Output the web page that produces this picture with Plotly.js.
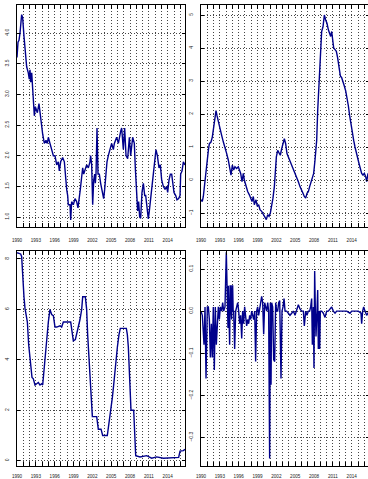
<!DOCTYPE html>
<html>
<head>
<meta charset="utf-8">
<script src="https://cdn.plot.ly/plotly-3.0.1.min.js"></script>
<style>
html,body{margin:0;padding:0;overflow:hidden;background:#fff;}
#chart{width:370px;height:479px;}
</style>
</head>
<body>
<div id="chart"></div>
<script>
// Top-left series (inflation-like)
const inflT = [1990.00,1990.16,1990.32,1990.48,1990.74,1990.90,1991.11,1991.33,1991.54,1991.80,1991.96,1992.07,1992.18,1992.34,1992.60,1992.76,1992.92,1993.24,1993.50,1993.66,1993.87,1994.09,1994.35,1994.62,1994.83,1994.99,1995.25,1995.52,1995.79,1996.05,1996.32,1996.58,1996.74,1996.95,1997.27,1997.54,1997.75,1997.91,1998.07,1998.17,1998.44,1998.55,1998.70,1998.97,1999.24,1999.50,1999.71,1999.93,2000.08,2000.24,2000.46,2000.62,2000.88,2001.09,2001.36,2001.62,2001.73,2001.89,2002.05,2002.21,2002.37,2002.47,2002.58,2002.74,2002.90,2003.11,2003.32,2003.59,2003.80,2003.96,2004.17,2004.33,2004.54,2004.81,2005.07,2005.34,2005.50,2005.87,2006.14,2006.51,2006.67,2006.93,2007.14,2007.36,2007.62,2007.89,2008.10,2008.42,2008.68,2008.84,2009.06,2009.21,2009.37,2009.53,2009.69,2009.90,2010.12,2010.33,2010.49,2010.70,2010.91,2011.07,2011.28,2011.50,2011.71,2011.97,2012.13,2012.35,2012.61,2012.82,2013.04,2013.30,2013.57,2013.83,2013.99,2014.20,2014.42,2014.63,2014.79,2015.00,2015.27,2015.48,2015.74,2015.96,2016.06,2016.27,2016.49,2016.75];
const inflV = [3.6,3.85,3.88,4.0,4.3,4.25,3.95,3.6,3.45,3.35,3.25,3.4,3.2,3.35,3.0,2.65,2.8,2.7,2.85,2.7,2.6,2.35,2.2,2.25,2.2,2.3,2.2,2.1,2.0,2.0,1.85,1.9,1.75,1.9,1.97,1.9,1.6,1.45,1.35,1.2,1.2,0.95,1.25,1.2,1.3,1.25,1.15,1.4,1.45,1.6,1.8,1.7,1.8,1.85,1.8,1.9,2.0,1.85,1.2,1.6,1.7,1.55,1.7,2.45,1.7,1.7,1.55,1.4,1.3,1.45,1.7,1.9,2.0,2.1,2.2,2.1,2.2,2.3,2.2,2.4,2.45,2.1,2.45,2.0,1.95,2.3,2.0,2.3,2.2,1.8,1.2,1.1,1.25,1.0,0.98,1.4,1.55,1.35,1.35,1.15,0.97,1.1,1.3,1.5,1.75,2.0,2.1,2.0,1.8,1.85,1.6,1.5,1.45,1.5,1.4,1.6,1.7,1.7,1.55,1.4,1.35,1.28,1.3,1.35,1.7,1.75,1.9,1.85];

// Top-right series (gap)
const gapT = [1990.00,1990.21,1990.37,1990.53,1990.74,1990.96,1991.17,1991.33,1991.59,1991.80,1992.02,1992.23,1992.39,1992.55,1992.71,1992.92,1993.08,1993.29,1993.56,1993.82,1994.09,1994.35,1994.56,1994.78,1994.99,1995.20,1995.41,1995.68,1995.94,1996.10,1996.32,1996.53,1996.74,1996.90,1997.17,1997.43,1997.70,1997.91,1998.12,1998.33,1998.49,1998.76,1998.97,1999.18,1999.39,1999.66,1999.93,2000.19,2000.40,2000.62,2000.83,2001.04,2001.25,2001.46,2001.68,2001.84,2002.00,2002.21,2002.42,2002.63,2002.85,2003.06,2003.27,2003.48,2003.69,2003.91,2004.12,2004.33,2004.54,2004.81,2005.02,2005.29,2005.50,2005.76,2006.03,2006.24,2006.45,2006.67,2006.88,2007.09,2007.30,2007.52,2007.73,2007.94,2008.15,2008.42,2008.58,2008.79,2009.00,2009.21,2009.43,2009.64,2009.85,2010.06,2010.28,2010.49,2010.65,2010.81,2010.97,2011.13,2011.34,2011.55,2011.76,2011.97,2012.19,2012.40,2012.61,2012.82,2013.04,2013.25,2013.46,2013.67,2013.89,2014.10,2014.31,2014.52,2014.73,2014.95,2015.16,2015.37,2015.58,2015.80,2016.01,2016.22,2016.38,2016.59,2016.75];
const gapV = [-0.6,-0.65,-0.5,-0.2,0.3,0.6,0.9,1.1,1.15,1.3,1.6,1.95,2.1,1.95,1.8,1.65,1.5,1.35,1.15,1.0,0.8,0.6,0.4,0.15,0.45,0.3,0.4,0.35,0.4,0.3,0.2,-0.05,0.2,0.0,-0.2,-0.35,-0.45,-0.55,-0.65,-0.5,-0.75,-0.6,-0.8,-0.75,-0.9,-0.95,-1.05,-1.15,-1.2,-1.05,-1.1,-1.0,-0.8,-0.55,-0.2,0.3,0.7,0.9,0.8,0.75,0.95,1.1,1.25,1.1,0.8,0.7,0.6,0.55,0.4,0.3,0.2,0.05,-0.05,-0.2,-0.35,-0.4,-0.5,-0.55,-0.4,-0.35,-0.2,-0.05,0.1,0.2,0.6,1.2,2.1,3.0,3.95,4.5,4.65,5.0,4.85,4.75,4.55,4.4,4.35,4.5,4.15,4.0,3.95,3.9,3.7,3.45,3.15,3.1,3.0,2.85,2.7,2.5,2.25,1.95,1.65,1.35,1.2,1.0,0.8,0.7,0.5,0.35,0.2,0.15,0.2,0.1,-0.05,0.2,0.15];

// Bottom-left series (policy rate)
const ffrT = [1990.00,1990.58,1990.74,1990.90,1991.11,1991.27,1991.43,1991.65,1991.86,1992.18,1992.39,1992.60,1992.87,1993.13,1993.40,1993.66,1993.93,1994.09,1994.25,1994.46,1994.72,1994.99,1995.25,1995.52,1995.79,1996.05,1996.32,1996.85,1997.11,1997.38,1998.55,1998.76,1998.97,1999.29,1999.50,1999.77,2000.03,2000.30,2000.46,2000.88,2001.09,2001.25,2001.46,2001.62,2001.78,2002.00,2002.69,2002.95,2003.38,2003.64,2004.38,2004.65,2004.97,2005.18,2005.39,2005.55,2005.76,2005.98,2006.24,2006.45,2007.41,2007.57,2007.73,2007.99,2008.15,2008.58,2008.74,2008.90,2009.59,2010.65,2011.44,2012.24,2013.30,2015.42,2015.74,2015.96,2016.49,2016.75];
const ffrV = [8.25,8.2,8.1,7.3,6.5,6.05,5.85,5.5,4.6,3.7,3.3,3.25,3.0,3.05,3.1,3.0,3.05,3.0,3.5,4.2,4.75,5.5,6.0,5.8,5.75,5.3,5.3,5.35,5.3,5.5,5.5,5.1,4.75,4.8,5.0,5.3,5.6,6.0,6.5,6.5,6.0,5.0,4.0,3.5,2.5,1.75,1.75,1.25,1.25,1.0,1.0,1.5,2.0,2.5,3.0,3.5,4.0,4.5,5.0,5.25,5.25,5.0,4.5,3.0,2.0,2.0,1.0,0.2,0.15,0.2,0.1,0.15,0.1,0.1,0.13,0.38,0.4,0.45];

// Bottom-right series (shocks)
const shockT = [1990.00,1990.21,1990.48,1990.64,1990.80,1991.01,1991.17,1991.33,1991.49,1991.65,1991.80,1991.96,1992.12,1992.28,1992.44,1992.60,1992.76,1992.92,1993.08,1993.29,1993.45,1993.61,1993.82,1994.03,1994.19,1994.25,1994.30,1994.35,1994.48,1994.56,1994.64,1994.72,1994.80,1994.88,1994.96,1995.04,1995.12,1995.20,1995.36,1995.52,1995.68,1995.84,1996.00,1996.16,1996.32,1996.48,1996.63,1996.79,1996.95,1997.11,1997.27,1997.43,1997.59,1997.75,1997.91,1998.07,1998.23,1998.39,1998.55,1998.70,1998.86,1999.02,1999.18,1999.34,1999.50,1999.66,1999.82,1999.98,2000.14,2000.30,2000.46,2000.62,2000.77,2000.93,2001.04,2001.15,2001.25,2001.41,2001.57,2001.73,2001.89,2002.05,2002.21,2002.37,2002.53,2002.74,2002.90,2003.06,2003.22,2003.38,2003.64,2003.91,2004.17,2004.44,2004.70,2004.97,2005.23,2005.50,2005.76,2006.03,2006.30,2006.45,2006.67,2006.88,2007.09,2007.30,2007.46,2007.62,2007.73,2007.89,2007.99,2008.10,2008.21,2008.31,2008.47,2008.58,2008.68,2008.79,2008.90,2009.00,2009.21,2009.48,2009.75,2010.01,2010.28,2010.54,2010.81,2011.07,2011.34,2011.60,2012.13,2012.66,2013.20,2013.73,2013.99,2014.52,2015.05,2015.48,2015.58,2015.74,2015.90,2016.11,2016.38,2016.59,2016.75];
const shockV = [0.0,-0.01,-0.08,0.01,-0.16,0.01,0.01,-0.02,-0.11,-0.03,-0.11,0.01,-0.14,0.01,-0.08,-0.02,0.01,-0.02,0.01,0.0,0.02,0.0,0.01,0.14,0.06,0.0,-0.04,0.06,0.0,-0.08,0.06,0.06,0.0,-0.02,0.06,0.06,0.0,0.0,-0.09,0.0,0.01,0.02,0.0,-0.03,-0.01,-0.065,0.0,-0.03,0.01,-0.02,-0.035,-0.02,-0.03,-0.01,-0.02,0.0,-0.01,-0.02,0.0,-0.12,0.0,0.01,-0.01,0.01,0.015,0.035,0.02,-0.055,0.02,0.01,0.0,0.02,0.0,-0.35,0.02,-0.175,0.02,0.01,-0.115,-0.12,0.02,0.0,0.0,0.02,0.025,-0.16,0.0,0.01,0.03,0.0,0.0,-0.005,-0.01,-0.005,0.0,-0.01,0.0,0.015,0.005,0.0,0.0,-0.035,0.0,-0.01,0.0,0.0,0.01,0.03,-0.08,0.01,-0.135,0.095,0.0,-0.06,0.0,0.05,-0.09,0.0,-0.09,0.0,0.0,-0.005,-0.015,0.0,0.0,0.005,0.01,0.0,-0.005,0.0,0.0,0.0,0.0,-0.005,0.0,0.0,0.0,-0.005,-0.03,0.0,0.01,0.0,-0.01,-0.005,0.0];

// Axis tick values
const yearLabels = [1990,1993,1996,1999,2002,2005,2008,2011,2014];
const inflTicks = [1.0,1.5,2.0,2.5,3.0,3.5,4.0];
const gapTicks = [-1,0,1,2,3,4,5];
const ffrTicks = [0,2,4,6,8];
const shockTicks = [-0.3,-0.2,-0.1,0.0,0.1];

const W = 370, H = 479;
const lineColor = '#00008B';
const gridColor = '#444';
const font = {family: 'Liberation Sans, Arial, sans-serif', color: '#222'};

function xax(domain, anchor, standoff) {
  return {
    domain: domain, anchor: anchor, range: [1990, 2016.75],
    tickmode: 'array', tickvals: yearLabels, ticktext: yearLabels.map(String),
    ticks: 'inside', ticklen: 4, tickcolor: '#000', tickwidth: 1,
    showline: true, linecolor: '#000', linewidth: 1, mirror: 'ticks',
    showgrid: true, gridcolor: gridColor, griddash: '1px,2px', gridwidth: 1,
    minor: {dtick: 1, tick0: 1990, ticks: 'inside', ticklen: 4, tickcolor: '#000', tickwidth: 1,
            showgrid: true, gridcolor: gridColor, griddash: '1px,2px', gridwidth: 1},
    zeroline: false, tickfont: Object.assign({size: 4.6}, font), ticklabelstandoff: standoff,
    fixedrange: true
  };
}
function yax(domain, anchor, range, ticks, fmt) {
  return {
    domain: domain, anchor: anchor, range: range,
    tickmode: 'array', tickvals: ticks, tickformat: fmt,
    ticks: 'inside', ticklen: 3, tickcolor: '#000', tickwidth: 1,
    showline: true, linecolor: '#000', linewidth: 1, mirror: 'ticks',
    showgrid: true, gridcolor: gridColor, griddash: '1px,2px', gridwidth: 1,
    zeroline: false, tickangle: -90, tickfont: Object.assign({size: 5}, font),
    ticklabelstandoff: 5, fixedrange: true
  };
}

const xL = [17/W, 185/W], xR = [201/W, 369/W];
const yT = [1-227/H, 1-5/H], yB = [1-466/H, 1-251/H];

const traces = [
  {x: inflT, y: inflV, xaxis: 'x', yaxis: 'y'},
  {x: gapT, y: gapV, xaxis: 'x2', yaxis: 'y2'},
  {x: ffrT, y: ffrV, xaxis: 'x3', yaxis: 'y3'},
  {x: shockT, y: shockV, xaxis: 'x4', yaxis: 'y4'}
].map(t => Object.assign(t, {type: 'scatter', mode: 'lines', line: {color: lineColor, width: 1.4}, hoverinfo: 'skip'}));

const layout = {
  width: W, height: H, margin: {l: 0, r: 0, t: 0, b: 0},
  paper_bgcolor: '#fff', plot_bgcolor: '#fff', showlegend: false,
  xaxis: xax(xL, 'y', 8), xaxis2: xax(xR, 'y2', 8), xaxis3: xax(xL, 'y3', 5), xaxis4: xax(xR, 'y4', 5),
  yaxis: yax(yT, 'x', [0.837, 4.457], inflTicks, '.1f'),
  yaxis2: yax(yT, 'x2', [-1.424, 5.303], gapTicks, 'd'),
  yaxis3: yax(yB, 'x3', [-0.21, 8.317], ffrTicks, 'd'),
  yaxis4: yax(yB, 'x4', [-0.368, 0.1428], shockTicks, '.1f')
};

Plotly.newPlot('chart', traces, layout, {displayModeBar: false, staticPlot: true});
</script>
</body>
</html>
